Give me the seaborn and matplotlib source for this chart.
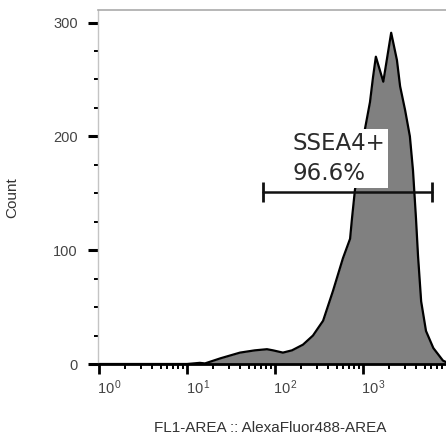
import numpy as np
import pandas as pd
import matplotlib
matplotlib.use('Agg')
import matplotlib.pyplot as plt
import matplotlib.ticker as mticker
from matplotlib.transforms import ScaledTranslation
import seaborn as sns

# histogram outline (FL1 intensity, count)
fl1 = [1, 10, 14, 16, 24, 40, 59, 81, 95, 123, 156, 208, 270, 352, 455, 592,
       713, 750, 810, 1050, 1200, 1300, 1400, 1700, 2090, 2430, 2640, 3010,
       3410, 3700, 4000, 4220, 4580, 5200, 6300, 8100, 9750]
count = [0, 0, 1, 0.5, 5, 10, 12, 13, 12, 10, 12, 17, 25, 38, 64, 93,
         110, 128, 153, 206, 230, 252, 270, 248, 291, 267, 244, 223,
         200, 170, 128, 95, 55, 29, 14, 3, 0]

gate_name = 'SSEA4+'
gate_pct = '96.6%'
gate_lo, gate_hi, gate_y = 73, 6050, 151

x_major = [1, 10, 100, 1000, 10000]
x_labels = ['10$^{\\,0}$', '10$^{\\,1}$', '10$^{\\,2}$', '10$^{\\,3}$', '10$^{\\,4}$']

df = pd.DataFrame({'fl1': fl1, 'count': count})

sns.set_style('white')
plt.rcParams['font.family'] = ['Liberation Sans', 'DejaVu Sans']
plt.rcParams['mathtext.fontset'] = 'custom'
plt.rcParams['mathtext.rm'] = 'Liberation Sans'
plt.rcParams['mathtext.it'] = 'Liberation Sans'

fig = plt.figure(figsize=(4.46, 4.36), dpi=100)
ax = fig.add_axes([98/446, 1-364/436, 1-98/446, 354/436])

ax.fill_between(df['fl1'], 0, df['count'], color='#808080', lw=0, zorder=1)
sns.lineplot(data=df, x='fl1', y='count', color='black', lw=1.6, ax=ax, zorder=2)

ax.set_xscale('log')
ax.set_xlim(10**(-1/88), 10**(347/88))
ax.set_ylim(0, 311)

# gate bar
ax.plot([gate_lo, gate_hi], [gate_y, gate_y], color='#111111', lw=1.8,
        marker='|', markersize=14, mew=2, zorder=3)
ax.text(160, 204, gate_name + '\n' + gate_pct, family='DejaVu Sans',
        fontsize=16.5, color='#2b2b2b', va='top', ha='left', linespacing=1.42,
        bbox=dict(boxstyle='square,pad=0.12', fc='white', ec='none'), zorder=4)

# axes styling
ax.spines['right'].set_visible(False)
ax.spines['top'].set_color('#aaaaaa')
ax.spines['top'].set_linewidth(1.2)
ax.spines['left'].set_color('#c4c4c4')
ax.spines['left'].set_linewidth(1.0)
ax.spines['bottom'].set_color('black')
ax.spines['bottom'].set_linewidth(2.0)

ax.xaxis.set_major_locator(mticker.FixedLocator(x_major))
ax.xaxis.set_major_formatter(mticker.FixedFormatter(x_labels))
ax.xaxis.set_minor_locator(mticker.LogLocator(base=10, subs=np.arange(2, 10)))
ax.xaxis.set_minor_formatter(mticker.NullFormatter())
ax.yaxis.set_major_locator(mticker.MultipleLocator(100))
ax.yaxis.set_minor_locator(mticker.MultipleLocator(25))

ax.tick_params(axis='x', which='major', direction='out', length=7.5, width=2,
               color='black', labelsize=10.5, labelcolor='#444444', pad=3, bottom=True)
ax.tick_params(axis='x', which='minor', direction='out', length=3.5, width=1.4,
               color='black', bottom=True)
ax.tick_params(axis='y', which='major', direction='out', length=7.5, width=2.2,
               color='black', labelsize=10.5, labelcolor='#444444', pad=7, left=True)
ax.tick_params(axis='y', which='minor', direction='out', length=3, width=1.4,
               color='black', left=True)

shift = ScaledTranslation(11/100, 0, fig.dpi_scale_trans)
for lab in ax.get_xticklabels():
    lab.set_transform(lab.get_transform() + shift)

ax.set_xlabel('FL1-AREA :: AlexaFluor488-AREA', fontsize=11, color='#333333')
ax.set_ylabel('Count', fontsize=11, color='#333333')
ax.xaxis.set_label_coords(172/348, -57/354)
ax.yaxis.set_label_coords(-79/348, 0.47)

fig.savefig('out.png', dpi=100, facecolor='white')
